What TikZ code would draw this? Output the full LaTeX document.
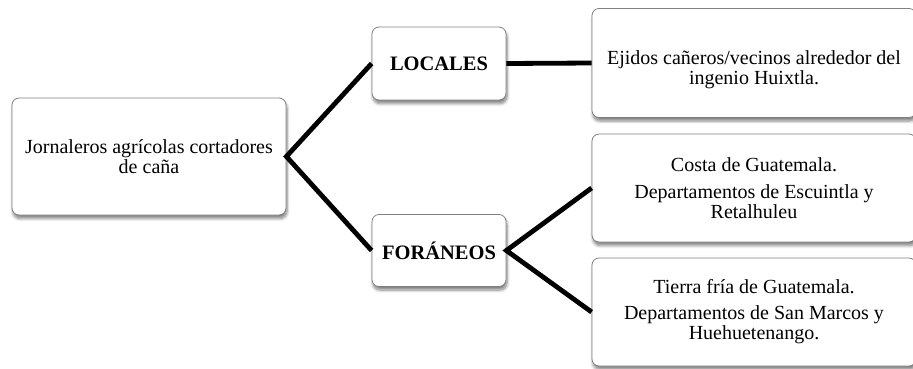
\documentclass[tikz,border=0pt]{standalone}
\usepackage{fontspec}
\setmainfont{Liberation Serif}
\usetikzlibrary{shadows.blur}
\tikzset{
  box/.style={draw=black!50, line width=0.8pt, fill=white, rounded corners=7pt,
    align=center, inner sep=0pt, font=\fontsize{20}{20}\selectfont,
    blur shadow={shadow xshift=1pt, shadow yshift=-3.5pt, shadow blur steps=6, shadow opacity=50, shadow blur radius=3pt}},
  bbox/.style={box, font=\fontsize{20.5}{20}\selectfont\bfseries},
  txt/.style={align=center, inner sep=0pt, font=\fontsize{20}{20}\selectfont},
  link/.style={line width=4.8pt, black}
}
\begin{document}
\begin{tikzpicture}[x=1pt,y=-1pt]
\useasboundingbox (0,0) rectangle (913,368);
\node[box, minimum width=274pt, minimum height=117pt] (root) at (149,156.5)
  {Jornaleros agrícolas cortadores\\de caña};
\node[bbox, minimum width=134pt, minimum height=73pt] (loc) at (439,63.5) {LOCALES};
\node[bbox, minimum width=134pt, minimum height=72pt] (for) at (439,250.5) {FORÁNEOS};
\node[box, minimum width=324pt, minimum height=109pt] (eji) at (754,63) {};
\node[txt] (ejit) at (754,70) {Ejidos cañeros/vecinos alrededor del\\ingenio Huixtla.};
\node[box, minimum width=324pt, minimum height=108pt] (cos) at (754,188)
  {Costa de Guatemala.\\[7pt]Departamentos de Escuintla y\\Retalhuleu};
\node[box, minimum width=324pt, minimum height=108pt] (tie) at (754,312)
  {Tierra fría de Guatemala.\\[6pt]Departamentos de San Marcos y\\Huehuetenango.};
\draw[link] (loc.west) -- (root.east) -- (for.west);
\draw[link] (loc.east) -- (eji.west);
\draw[link] (cos.west) -- (for.east) -- (tie.west);
\end{tikzpicture}
\end{document}
